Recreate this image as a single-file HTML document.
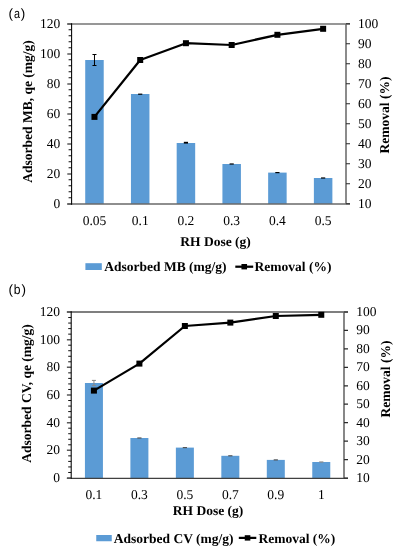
<!DOCTYPE html>
<html><head><meta charset="utf-8"><style>
html,body{margin:0;padding:0;background:#fff;}
svg{display:block;text-rendering:geometricPrecision;will-change:transform;}
.t{font-family:"Liberation Serif",serif;font-size:13.5px;fill:#000;}
.b{font-family:"Liberation Serif",serif;font-size:13.5px;font-weight:bold;fill:#000;}
.s{font-family:"Liberation Sans",sans-serif;font-size:13.5px;fill:#000;}
</style></head><body>
<svg width="400" height="550" viewBox="0 0 400 550">
<rect width="400" height="550" fill="#fff"/>
<rect x="85.22" y="60.00" width="18.50" height="144.00" fill="#5B9BD5"/>
<rect x="130.95" y="94.00" width="18.50" height="110.00" fill="#5B9BD5"/>
<rect x="176.68" y="143.00" width="18.50" height="61.00" fill="#5B9BD5"/>
<rect x="222.42" y="164.00" width="18.50" height="40.00" fill="#5B9BD5"/>
<rect x="268.15" y="172.60" width="18.50" height="31.40" fill="#5B9BD5"/>
<rect x="313.88" y="178.00" width="18.50" height="26.00" fill="#5B9BD5"/>
<path d="M94.47 54.50V65.50M92.47 54.50H96.47M92.47 65.50H96.47" stroke="#000" stroke-width="1" fill="none"/>
<rect x="138.10" y="93.60" width="4.2" height="1.20" fill="#000"/>
<rect x="183.83" y="141.80" width="4.2" height="1.80" fill="#000"/>
<rect x="229.57" y="163.40" width="4.2" height="1.20" fill="#000"/>
<rect x="275.30" y="172.00" width="4.2" height="1.20" fill="#000"/>
<rect x="321.03" y="177.40" width="4.2" height="1.20" fill="#000"/>
<path d="M67.30 24.00H350.00" stroke="#747474" stroke-width="1.6" fill="none"/>
<path d="M346.00 24.00V204.00" stroke="#6e6e6e" stroke-width="1.6" fill="none"/>
<path d="M67.30 204.00H350.00" stroke="#686868" stroke-width="1.6" fill="none"/>
<path d="M346.00 203.75H350.00M346.00 183.75H350.00M346.00 163.75H350.00M346.00 143.75H350.00M346.00 123.75H350.00M346.00 103.75H350.00M346.00 83.75H350.00M346.00 63.75H350.00M346.00 43.75H350.00M346.00 23.75H350.00" stroke="#2a2a2a" stroke-width="1.2" fill="none"/>
<path d="M67.30 204.00H71.60M67.30 174.00H71.60M67.30 144.00H71.60M67.30 114.00H71.60M67.30 84.00H71.60M67.30 54.00H71.60M67.30 24.00H71.60" stroke="#5a5a5a" stroke-width="1.5" fill="none"/>
<path d="M68.60 197.75H71.60M68.60 191.75H71.60M68.60 185.75H71.60M68.60 179.75H71.60M68.60 167.75H71.60M68.60 161.75H71.60M68.60 155.75H71.60M68.60 149.75H71.60M68.60 137.75H71.60M68.60 131.75H71.60M68.60 125.75H71.60M68.60 119.75H71.60M68.60 107.75H71.60M68.60 101.75H71.60M68.60 95.75H71.60M68.60 89.75H71.60M68.60 77.75H71.60M68.60 71.75H71.60M68.60 65.75H71.60M68.60 59.75H71.60M68.60 47.75H71.60M68.60 41.75H71.60M68.60 35.75H71.60M68.60 29.75H71.60" stroke="#111" stroke-width="1.0" fill="none"/>
<path d="M71.60 23.20V204.80" stroke="#000" stroke-width="1.05" fill="none"/>
<path d="M94.47 116.90L140.20 60.00L185.93 43.20L231.67 45.00L277.40 34.80L323.13 28.80" stroke="#000" stroke-width="2.25" fill="none" stroke-linejoin="round"/>
<rect x="91.47" y="113.90" width="6" height="6" fill="#000"/>
<rect x="137.20" y="57.00" width="6" height="6" fill="#000"/>
<rect x="182.93" y="40.20" width="6" height="6" fill="#000"/>
<rect x="228.67" y="42.00" width="6" height="6" fill="#000"/>
<rect x="274.40" y="31.80" width="6" height="6" fill="#000"/>
<rect x="320.13" y="25.80" width="6" height="6" fill="#000"/>
<text x="60.30" y="208.00" text-anchor="end" class="t">0</text>
<text x="60.30" y="178.00" text-anchor="end" class="t">20</text>
<text x="60.30" y="148.00" text-anchor="end" class="t">40</text>
<text x="60.30" y="118.00" text-anchor="end" class="t">60</text>
<text x="60.30" y="88.00" text-anchor="end" class="t">80</text>
<text x="60.30" y="58.00" text-anchor="end" class="t">100</text>
<text x="60.30" y="28.00" text-anchor="end" class="t">120</text>
<text x="358.00" y="208.00" class="t">10</text>
<text x="358.00" y="188.00" class="t">20</text>
<text x="358.00" y="168.00" class="t">30</text>
<text x="358.00" y="148.00" class="t">40</text>
<text x="358.00" y="128.00" class="t">50</text>
<text x="358.00" y="108.00" class="t">60</text>
<text x="358.00" y="88.00" class="t">70</text>
<text x="358.00" y="68.00" class="t">80</text>
<text x="358.00" y="48.00" class="t">90</text>
<text x="358.00" y="28.00" class="t">100</text>
<text x="94.47" y="224.60" text-anchor="middle" class="t">0.05</text>
<text x="140.20" y="224.60" text-anchor="middle" class="t">0.1</text>
<text x="185.93" y="224.60" text-anchor="middle" class="t">0.2</text>
<text x="231.67" y="224.60" text-anchor="middle" class="t">0.3</text>
<text x="277.40" y="224.60" text-anchor="middle" class="t">0.4</text>
<text x="323.13" y="224.60" text-anchor="middle" class="t">0.5</text>
<text x="215.60" y="245.60" text-anchor="middle" class="b">RH Dose (g)</text>
<text transform="translate(31.60 111.50) rotate(-90)" text-anchor="middle" class="b">Adsorbed MB, qe (mg/g)</text>
<text transform="translate(388.50 115.00) rotate(-90)" text-anchor="middle" class="b">Removal (%)</text>
<rect x="85.40" y="263.20" width="16.40" height="6.80" fill="#5B9BD5"/>
<text x="104.25" y="270.80" class="b">Adsorbed MB (mg/g)</text>
<path d="M235.30 266.70H253.20" stroke="#000" stroke-width="2.25"/>
<rect x="241.45" y="264.00" width="5.6" height="5.4" fill="#000"/>
<text x="254.60" y="270.80" class="b">Removal (%)</text>
<text x="8.50" y="17.80" class="s">(</text>
<text transform="translate(13.90 17.80) scale(0.8 1)" class="s">a</text>
<text x="20.75" y="17.80" class="s">)</text>
<rect x="84.93" y="383.00" width="18.00" height="95.00" fill="#5B9BD5"/>
<rect x="130.40" y="438.00" width="18.00" height="40.00" fill="#5B9BD5"/>
<rect x="175.87" y="447.60" width="18.00" height="30.40" fill="#5B9BD5"/>
<rect x="221.33" y="455.80" width="18.00" height="22.20" fill="#5B9BD5"/>
<rect x="266.80" y="459.90" width="18.00" height="18.10" fill="#5B9BD5"/>
<rect x="312.27" y="462.00" width="18.00" height="16.00" fill="#5B9BD5"/>
<path d="M93.93 380.40V385.60M91.93 380.40H95.93M91.93 385.60H95.93" stroke="#888" stroke-width="1" fill="none"/>
<rect x="137.30" y="437.40" width="4.2" height="1.20" fill="#555"/>
<rect x="182.77" y="447.00" width="4.2" height="1.20" fill="#555"/>
<rect x="228.23" y="455.20" width="4.2" height="1.20" fill="#555"/>
<rect x="273.70" y="459.30" width="4.2" height="1.20" fill="#555"/>
<rect x="319.17" y="461.40" width="4.2" height="1.20" fill="#888"/>
<path d="M66.90 312.00H348.00" stroke="#555555" stroke-width="1.6" fill="none"/>
<path d="M344.00 312.00V478.00" stroke="#6a6a6a" stroke-width="1.6" fill="none"/>
<path d="M66.90 478.40H348.00" stroke="#404040" stroke-width="1.3" fill="none"/>
<path d="M344.00 478.00H348.00M344.00 459.56H348.00M344.00 441.11H348.00M344.00 422.67H348.00M344.00 404.22H348.00M344.00 385.78H348.00M344.00 367.33H348.00M344.00 348.89H348.00M344.00 330.44H348.00M344.00 312.00H348.00" stroke="#2a2a2a" stroke-width="1.2" fill="none"/>
<path d="M66.90 478.00H71.20M66.90 450.33H71.20M66.90 422.67H71.20M66.90 395.00H71.20M66.90 367.33H71.20M66.90 339.67H71.20M66.90 312.00H71.20" stroke="#5a5a5a" stroke-width="1.5" fill="none"/>
<path d="M68.20 472.47H71.20M68.20 466.93H71.20M68.20 461.40H71.20M68.20 455.87H71.20M68.20 444.80H71.20M68.20 439.27H71.20M68.20 433.73H71.20M68.20 428.20H71.20M68.20 417.13H71.20M68.20 411.60H71.20M68.20 406.07H71.20M68.20 400.53H71.20M68.20 389.47H71.20M68.20 383.93H71.20M68.20 378.40H71.20M68.20 372.87H71.20M68.20 361.80H71.20M68.20 356.27H71.20M68.20 350.73H71.20M68.20 345.20H71.20M68.20 334.13H71.20M68.20 328.60H71.20M68.20 323.07H71.20M68.20 317.53H71.20" stroke="#111" stroke-width="1.0" fill="none"/>
<path d="M71.20 311.20V478.80" stroke="#000" stroke-width="1.05" fill="none"/>
<path d="M93.93 390.60L139.40 363.60L184.87 326.00L230.33 322.60L275.80 316.00L321.27 314.80" stroke="#000" stroke-width="2.25" fill="none" stroke-linejoin="round"/>
<rect x="90.93" y="387.60" width="6" height="6" fill="#000"/>
<rect x="136.40" y="360.60" width="6" height="6" fill="#000"/>
<rect x="181.87" y="323.00" width="6" height="6" fill="#000"/>
<rect x="227.33" y="319.60" width="6" height="6" fill="#000"/>
<rect x="272.80" y="313.00" width="6" height="6" fill="#000"/>
<rect x="318.27" y="311.80" width="6" height="6" fill="#000"/>
<text x="60.00" y="482.00" text-anchor="end" class="t">0</text>
<text x="60.00" y="454.33" text-anchor="end" class="t">20</text>
<text x="60.00" y="426.67" text-anchor="end" class="t">40</text>
<text x="60.00" y="399.00" text-anchor="end" class="t">60</text>
<text x="60.00" y="371.33" text-anchor="end" class="t">80</text>
<text x="60.00" y="343.67" text-anchor="end" class="t">100</text>
<text x="60.00" y="316.00" text-anchor="end" class="t">120</text>
<text x="356.20" y="482.00" class="t">10</text>
<text x="356.20" y="463.56" class="t">20</text>
<text x="356.20" y="445.11" class="t">30</text>
<text x="356.20" y="426.67" class="t">40</text>
<text x="356.20" y="408.22" class="t">50</text>
<text x="356.20" y="389.78" class="t">60</text>
<text x="356.20" y="371.33" class="t">70</text>
<text x="356.20" y="352.89" class="t">80</text>
<text x="356.20" y="334.44" class="t">90</text>
<text x="356.20" y="316.00" class="t">100</text>
<text x="93.93" y="498.90" text-anchor="middle" class="t">0.1</text>
<text x="139.40" y="498.90" text-anchor="middle" class="t">0.3</text>
<text x="184.87" y="498.90" text-anchor="middle" class="t">0.5</text>
<text x="230.33" y="498.90" text-anchor="middle" class="t">0.7</text>
<text x="275.80" y="498.90" text-anchor="middle" class="t">0.9</text>
<text x="321.27" y="498.90" text-anchor="middle" class="t">1</text>
<text x="208.10" y="515.20" text-anchor="middle" class="b">RH Dose (g)</text>
<text transform="translate(30.80 393.50) rotate(-90)" text-anchor="middle" class="b">Adsorbed CV, qe (mg/g)</text>
<text transform="translate(390.20 379.00) rotate(-90)" text-anchor="middle" class="b">Removal (%)</text>
<rect x="96.25" y="535.00" width="15.50" height="6.25" fill="#5B9BD5"/>
<text x="113.75" y="542.50" class="b">Adsorbed CV (mg/g)</text>
<path d="M238.80 537.90H256.30" stroke="#000" stroke-width="2.25"/>
<rect x="244.75" y="535.20" width="5.6" height="5.4" fill="#000"/>
<text x="258.50" y="542.50" class="b">Removal (%)</text>
<text x="8.50" y="293.80" class="s">(</text>
<text transform="translate(13.70 293.80) scale(0.9 1)" class="s">b</text>
<text x="21.40" y="293.80" class="s">)</text>
</svg>
</body></html>
